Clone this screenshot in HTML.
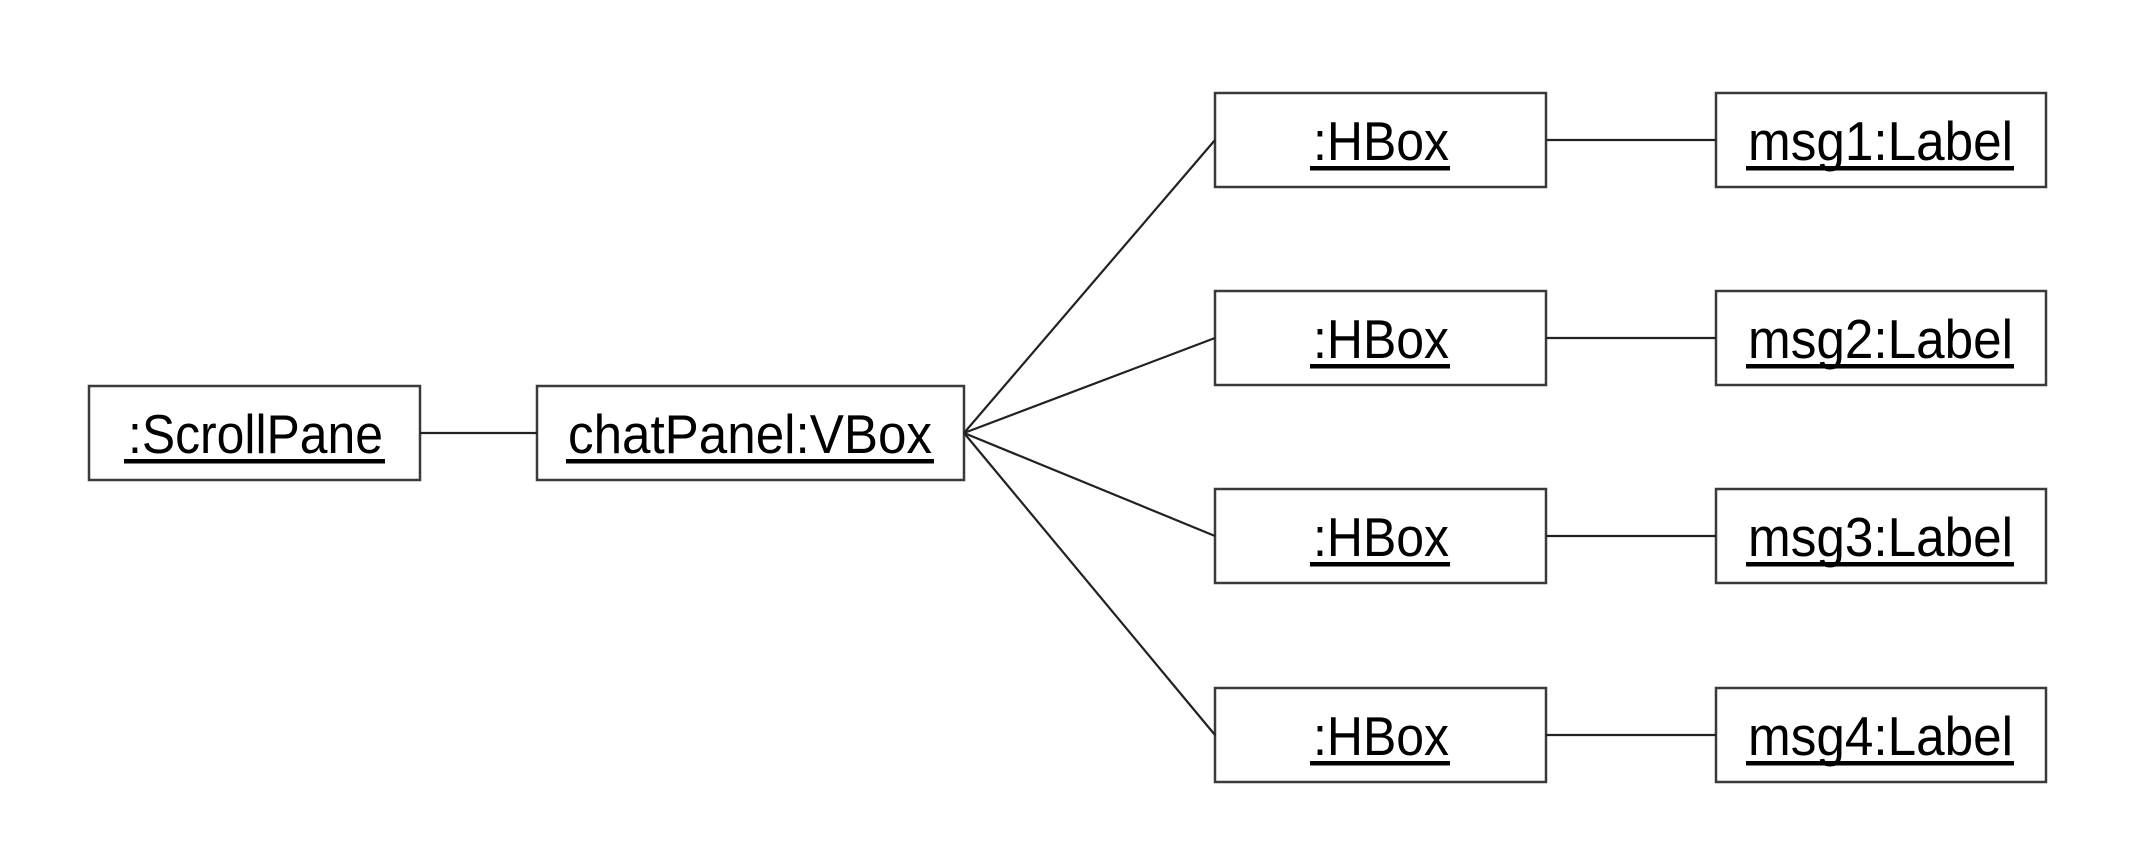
<!DOCTYPE html>
<html><head><meta charset="utf-8"><style>
html,body{margin:0;padding:0;background:#fff;}
svg{display:block;}
text{font-family:"Liberation Sans",sans-serif;font-size:55px;fill:#000;}
</style></head><body>
<svg width="2150" height="862" viewBox="0 0 2150 862" xmlns="http://www.w3.org/2000/svg">
<g fill="#fff" stroke="#3a3a3a" stroke-width="2.5">
<rect x="89" y="386" width="331" height="94"/>
<rect x="537" y="386" width="427" height="94"/>
<rect x="1215" y="93" width="331" height="94"/>
<rect x="1215" y="291" width="331" height="94"/>
<rect x="1215" y="489" width="331" height="94"/>
<rect x="1215" y="688" width="331" height="94"/>
<rect x="1716" y="93" width="330" height="94"/>
<rect x="1716" y="291" width="330" height="94"/>
<rect x="1716" y="489" width="330" height="94"/>
<rect x="1716" y="688" width="330" height="94"/>
</g>
<g stroke="#222" stroke-width="2.2" fill="none">
<line x1="420" y1="433" x2="537" y2="433"/>
<line x1="964" y1="433" x2="1215" y2="140"/>
<line x1="964" y1="433" x2="1215" y2="338"/>
<line x1="964" y1="433" x2="1215" y2="536"/>
<line x1="964" y1="433" x2="1215" y2="735"/>
<line x1="1546" y1="140" x2="1716" y2="140"/>
<line x1="1546" y1="338" x2="1716" y2="338"/>
<line x1="1546" y1="536" x2="1716" y2="536"/>
<line x1="1546" y1="735" x2="1716" y2="735"/>
</g>
<g>
<text x="128" y="453" textLength="255" lengthAdjust="spacingAndGlyphs">:ScrollPane</text>
<rect x="124" y="459" width="261" height="4.5"/>
<text x="568" y="453" textLength="364" lengthAdjust="spacingAndGlyphs">chatPanel:VBox</text>
<rect x="566" y="459" width="368" height="4.5"/>

<text x="1313" y="160" textLength="136" lengthAdjust="spacingAndGlyphs">:HBox</text>
<rect x="1310" y="166" width="140" height="4.5"/>
<text x="1313" y="358" textLength="136" lengthAdjust="spacingAndGlyphs">:HBox</text>
<rect x="1310" y="364" width="140" height="4.5"/>
<text x="1313" y="556" textLength="136" lengthAdjust="spacingAndGlyphs">:HBox</text>
<rect x="1310" y="562" width="140" height="4.5"/>
<text x="1313" y="755" textLength="136" lengthAdjust="spacingAndGlyphs">:HBox</text>
<rect x="1310" y="761" width="140" height="4.5"/>

<text x="1748" y="160" textLength="265" lengthAdjust="spacingAndGlyphs">msg1:Label</text>
<rect x="1746" y="166" width="268" height="4.5"/>
<text x="1748" y="358" textLength="265" lengthAdjust="spacingAndGlyphs">msg2:Label</text>
<rect x="1746" y="364" width="268" height="4.5"/>
<text x="1748" y="556" textLength="265" lengthAdjust="spacingAndGlyphs">msg3:Label</text>
<rect x="1746" y="562" width="268" height="4.5"/>
<text x="1748" y="755" textLength="265" lengthAdjust="spacingAndGlyphs">msg4:Label</text>
<rect x="1746" y="761" width="268" height="4.5"/>
</g>
</svg>
</body></html>
